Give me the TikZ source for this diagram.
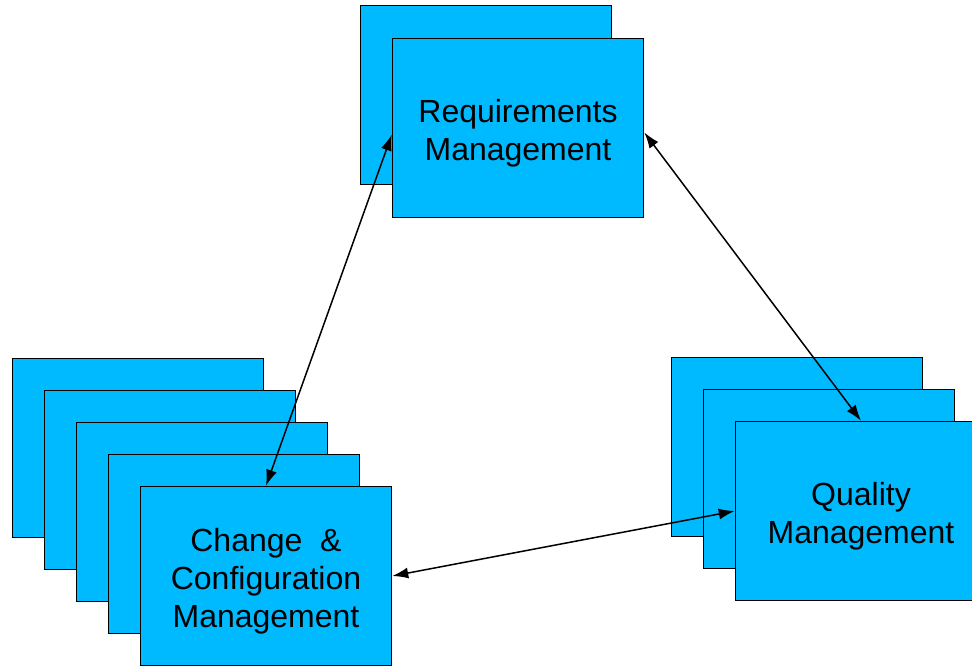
\documentclass[tikz,border=0pt]{standalone}
\usepackage{fontspec}
\setmainfont{Liberation Sans}
\usetikzlibrary{arrows.meta}
\definecolor{boxblue}{RGB}{0, 186, 255}

\begin{document}
\begin{tikzpicture}[x=1pt, y=-1pt,
  stackbox/.style={draw=black, fill=boxblue, line width=1.5pt,
    minimum width=251pt, minimum height=179pt, inner sep=0pt},
  stacktext/.style={align=center, inner sep=0pt,
    font=\fontsize{32}{38}\selectfont},
  link/.style={{Latex[length=16pt,width=11pt]}-{Latex[length=16pt,width=11pt]},
    line width=1.5pt}]
% Frame
\clip (0,0) rectangle (972,665);
% Requirements stack
\node[stackbox] (req1) at (486,95) {};
\node[stackbox] (req) at (518,128) {};
\node[stacktext] (reqtext) at ([yshift=-5pt]req.center) {Requirements\\Management};
% Change & configuration stack
\foreach \i in {1,...,4}
  \node[stackbox] (chg\i) at ({138+32*(\i-1)},{448+32*(\i-1)}) {};
\node[stackbox] (chg) at (266,576) {};
\node[stacktext] (chgtext) at ([yshift=-5pt]chg.center) {Change~~\&\\Configuration\\Management};
% Quality stack
\foreach \i in {1,2}
  \node[stackbox] (qual\i) at ({797+32*(\i-1)},{447+32*(\i-1)}) {};
\node[stackbox] (qual) at (861,511) {};
\node[stacktext] (qualtext) at ([yshift=-5pt]qual.center) {Quality\\Management};
% Links
\draw[link] (req.183) -- (chg.north);
\draw[link] (req.358) -- (qual.north);
\draw[link] (chg.east) -- (qual.west);
\end{tikzpicture}
\end{document}
